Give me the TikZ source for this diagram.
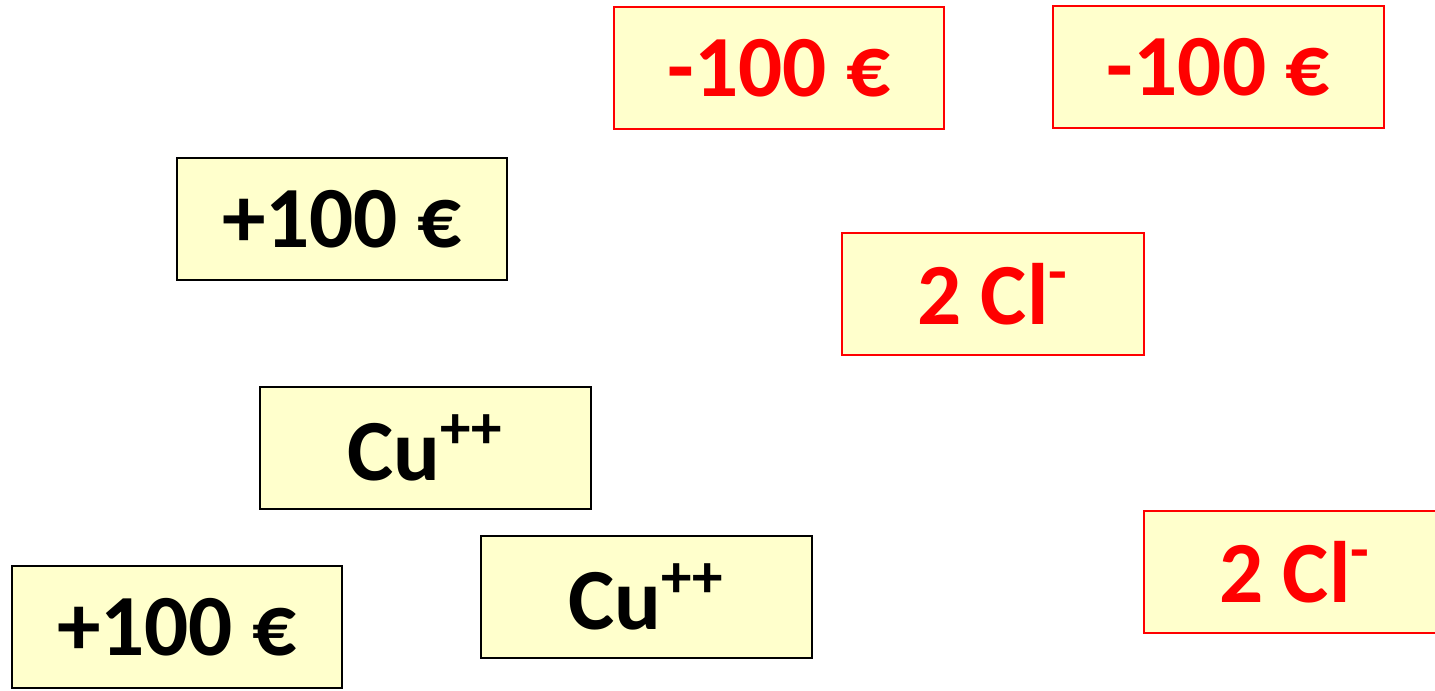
\documentclass[tikz,border=0pt]{standalone}
\usepackage{fontspec}
\setmainfont{Carlito}
\usepackage{xcolor}
\usepackage{tikz}
\definecolor{ChargePaper}{RGB}{255, 255, 204}
\definecolor{ChargeRed}{RGB}{255, 0, 0}

\begin{document}
\begin{tikzpicture}[x=0.01cm, y=-0.01cm]
  \tikzstyle{plus} = [rectangle, draw=black, fill=ChargePaper, minimum width=3.3cm, minimum height=1.22cm, inner sep=0pt, line width=0.6pt, font=\fontsize{24.8}{30}\selectfont\bfseries]
  \tikzstyle{minus} = [rectangle, draw=ChargeRed, fill=ChargePaper, text=ChargeRed, minimum width=3.3cm, minimum height=1.22cm, inner sep=0pt, line width=0.6pt, font=\fontsize{24.8}{30}\selectfont\bfseries]
  \useasboundingbox (0,0) rectangle (1435,690);

  \node [minus] (debitA) at (779,68) {-100 €};
  \node [minus] (debitB) at (1218.5,67) {-100 €};
  \node [plus] (creditA) at (342,219) {+100 €};
  \node [minus, minimum width=3.02cm] (chlorideA) at (993,294) {2 Cl\textsuperscript{-}};
  \node [plus] (copperA) at (425.5,448) {Cu\textsuperscript{++}};
  \node [minus, minimum width=3.02cm] (chlorideB) at (1295,572) {2 Cl\textsuperscript{-}};
  \node [plus] (copperB) at (646.5,597) {Cu\textsuperscript{++}};
  \node [plus] (creditB) at (177,627) {+100 €};
\end{tikzpicture}
\end{document}
